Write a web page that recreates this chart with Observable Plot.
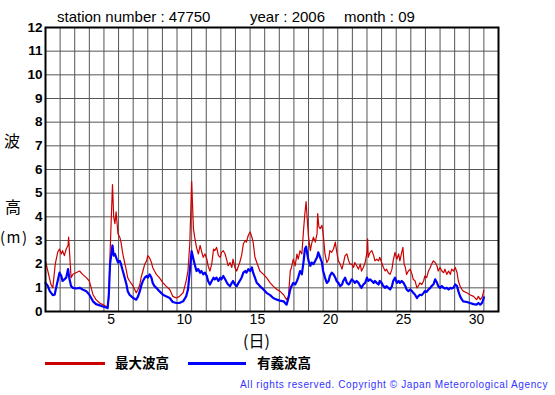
<!DOCTYPE html>
<html><head><meta charset="utf-8">
<script src="https://cdn.jsdelivr.net/npm/d3@7"></script>
<script src="https://cdn.jsdelivr.net/npm/@observablehq/plot@0.6"></script>
<style>
body{margin:0;background:#fff;width:555px;height:395px;position:relative;overflow:hidden;font-family:"Liberation Sans",Arial,sans-serif;color:#000;}
#chart{position:absolute;left:0;top:0;}
.t{position:absolute;white-space:nowrap;line-height:1;}
.jp{font-family:"Noto Sans CJK JP",sans-serif;}
</style></head><body>
<div id="chart"></div>
<div class="t" style="left:57px;top:9px;font-size:15px;">station number : 47750</div>
<div class="t" style="left:250px;top:9px;font-size:15px;">year : 2006</div>
<div class="t" style="left:344px;top:9px;font-size:15px;">month : 09</div>
<div class="t jp" style="left:4px;top:132px;font-size:16px;">波</div>
<div class="t jp" style="left:5px;top:198px;font-size:16px;">高</div>
<div class="t jp" style="left:0px;top:229px;font-size:15px;letter-spacing:1.5px;">(m)</div>
<div class="t jp" style="left:243px;top:332px;font-size:16px;">(日)</div>
<div style="position:absolute;left:45px;top:362px;width:60px;height:3px;background:#cc0000;"></div>
<div class="t jp" style="left:115px;top:356px;font-size:13.5px;font-weight:bold;">最大波高</div>
<div style="position:absolute;left:188px;top:362px;width:58px;height:3px;background:#0000ff;"></div>
<div class="t jp" style="left:257px;top:356px;font-size:13.5px;font-weight:bold;">有義波高</div>
<div class="t" style="right:7px;top:380px;font-size:10px;letter-spacing:0.6px;color:#3333ff;">All rights reserved. Copyright © Japan Meteorological Agency</div>
<script>
// hours elapsed since 2006-09-01 00:00
const maxHour = [0,9,12,16,20,23,26,28,31,34,37,38,41,42,45,50,56,61,67,72,78,83,89,94,100,102,104,106,110,112,114,116,119,122,124,127,130,133,135,138,144,149,152,155,157,160,163,166,168,171,174,176,179,182,187,193,198,204,209,215,220,226,231,234,237,240,
243,245,248,251,254,256,259,262,265,267,270,273,276,278,281,284,287,289,292,295,298,300,303,306,308,311,314,317,319,322,325,328,330,333,336,339,341,344,347,350,352,358,363,369,374,380,385,391,396,399,402,404,407,410,413,415,418,421,424,426,428,430,432,435,437,440,443,446,447,449,451,454,456,459,462,465,467,470,473,476,478,481,484,487,489,492,495,498,500,
503,506,508,511,514,517,519,522,525,528,529,530,533,536,539,541,544,547,549,552,555,558,560,563,566,569,571,574,577,580,582,585,587,589,591,593,596,599,602,604,607,610,612,615,618,621,623,626,629,632,634,637,640,643,645,648,651,654,656,659,662,665,667,670,673,676,678,681,684,686,692,697,703,708,711,714,717,719,720];
const maxHeight = [2.14,1.14,1.0,2.0,2.5,2.64,2.43,2.57,2.36,2.64,2.79,3.14,1.86,1.43,1.57,1.64,1.71,1.57,1.43,1.29,0.71,0.5,0.36,0.29,0.21,0.17,0.57,2.43,5.36,4.0,3.71,4.21,3.29,3.14,2.93,2.43,2.07,1.71,1.43,1.29,1.07,0.79,0.93,1.14,1.43,1.71,2.0,2.14,2.36,2.26,2.07,1.86,1.71,1.57,1.43,1.21,1.07,0.93,0.64,0.57,0.64,0.79,1.29,1.71,2.86,5.5,
3.5,3.14,2.71,2.43,2.79,2.57,2.29,2.43,2.21,1.93,1.71,2.0,2.64,2.57,2.71,2.36,2.29,2.5,2.57,2.43,2.14,1.93,2.07,1.86,2.21,1.86,1.71,1.93,2.07,2.36,2.86,3.0,2.93,3.21,3.36,3.14,2.93,2.29,2.07,1.86,1.71,1.57,1.43,1.21,1.07,0.93,0.86,0.71,0.5,0.64,1.71,1.86,2.21,1.93,2.43,2.21,2.57,2.43,3.5,4.14,4.64,3.86,3.14,2.57,2.86,3.14,2.93,3.29,4.14,3.57,3.5,3.64,3.29,2.43,2.07,2.21,2.57,2.5,2.64,2.93,2.57,2.14,2.0,1.79,2.0,2.36,2.43,2.14,2.0,
2.0,1.86,2.07,1.93,1.79,2.0,1.71,1.86,2.07,2.5,3.07,2.29,2.5,2.57,2.36,2.14,2.21,2.14,2.29,2.07,1.86,1.71,1.79,1.64,1.57,1.79,2.14,2.5,2.21,2.43,2.14,2.5,2.71,2.0,1.86,1.57,1.71,1.79,1.57,1.36,1.29,1.0,1.07,1.21,1.14,1.29,1.5,1.43,1.71,1.86,2.0,2.14,2.07,1.93,1.71,1.86,1.71,1.64,1.79,1.57,1.71,1.57,1.79,1.71,1.86,1.64,1.29,1.07,0.93,0.86,0.79,0.71,0.64,0.5,0.64,0.5,0.6,0.79,0.9];
const sigHour = [0,4,7,12,15,18,20,23,26,28,31,34,37,39,42,45,50,56,61,67,72,78,83,89,94,100,102,104,106,110,112,114,116,119,122,124,127,130,133,135,138,141,144,149,152,155,157,160,163,166,168,171,174,176,179,182,187,193,198,204,209,215,220,226,231,234,237,240,
243,245,248,251,254,256,259,262,265,267,270,273,276,278,281,284,287,289,292,295,298,300,303,306,308,311,314,317,319,322,325,328,330,333,336,339,341,344,347,350,352,358,363,369,374,380,385,391,396,399,402,404,407,410,413,415,418,421,424,426,428,430,432,435,437,440,443,446,448,451,454,456,459,462,465,467,470,473,476,478,481,484,487,489,492,495,498,500,
503,506,508,511,514,517,519,522,525,528,530,533,536,539,541,544,547,549,552,555,558,560,563,566,569,571,574,577,580,582,585,588,591,593,596,599,602,604,607,610,612,615,618,621,623,626,629,632,634,637,640,643,645,648,651,654,656,659,662,665,667,670,673,676,678,681,684,686,692,697,703,708,711,714,717,719,720];
const sigHeight = [1.21,1.07,0.86,0.69,0.71,1.07,1.29,1.64,1.5,1.29,1.36,1.43,1.79,1.43,1.07,1.0,0.97,1.0,0.93,0.86,0.71,0.43,0.31,0.26,0.21,0.17,0.14,0.71,2.0,2.79,2.36,2.43,2.29,2.07,2.14,2.0,1.71,1.43,1.14,0.86,0.71,0.64,0.57,0.5,0.64,0.86,1.07,1.29,1.43,1.5,1.43,1.57,1.43,1.21,1.07,1.0,0.86,0.71,0.64,0.57,0.4,0.36,0.36,0.43,0.64,0.93,1.71,2.55,
2.21,2.0,1.71,1.79,1.64,1.71,1.57,1.64,1.5,1.29,1.14,1.29,1.43,1.36,1.43,1.29,1.43,1.36,1.5,1.36,1.21,1.14,1.07,1.21,1.29,1.14,1.07,1.21,1.29,1.43,1.64,1.71,1.64,1.79,1.71,1.86,1.64,1.43,1.21,1.14,1.07,0.93,0.79,0.69,0.57,0.5,0.46,0.43,0.29,0.57,0.93,1.07,1.21,1.14,1.29,1.43,1.71,1.57,2.14,2.64,2.74,2.43,2.14,1.93,2.07,2.0,2.14,2.29,2.5,2.29,2.07,1.71,1.43,1.21,1.29,1.5,1.64,1.57,1.43,1.29,1.21,1.07,1.14,1.29,1.43,1.21,1.14,1.21,
1.36,1.29,1.21,1.29,1.21,1.07,1.0,1.14,1.21,1.43,1.29,1.36,1.29,1.21,1.29,1.21,1.14,1.29,1.21,1.07,1.0,1.07,1.0,0.93,1.07,1.29,1.43,1.21,1.29,1.21,1.29,1.21,1.07,0.93,0.86,0.93,0.86,0.79,0.71,0.57,0.64,0.71,0.69,0.79,0.86,0.83,0.93,1.0,1.07,1.14,1.36,1.21,1.07,1.0,1.07,1.0,0.97,1.0,0.93,1.0,0.97,1.0,1.14,1.07,0.86,0.64,0.5,0.43,0.4,0.36,0.31,0.29,0.36,0.29,0.36,0.5,0.6];
const dayLabels = [5,10,15,20,25,30];
const yTicks = [0,1,2,3,4,5,6,7,8,9,10,11,12];
const dayCount = 31;

const maxData = maxHour.map((h,i) => ({h, v: maxHeight[i]}));
const sigData = sigHour.map((h,i) => ({h, v: sigHeight[i]}));

const chart = Plot.plot({
  width: 555, height: 395,
  marginLeft: 45, marginRight: 57, marginTop: 27, marginBottom: 84,
  style: {fontFamily: "Liberation Sans, Arial, sans-serif", background: "white", color: "black"},
  x: {domain: [0, dayCount * 24], label: null},
  y: {domain: [0, 12], label: null},
  marks: [
    Plot.gridX(d3.range(0, dayCount * 24 + 1, 24), {stroke: "#555", strokeOpacity: 1, strokeWidth: 1}),
    Plot.gridY(yTicks, {stroke: "#555", strokeOpacity: 1, strokeWidth: 1}),
    Plot.line(maxData, {x: "h", y: "v", stroke: "#cc0000", strokeWidth: 1.2}),
    Plot.line(sigData, {x: "h", y: "v", stroke: "#0000ff", strokeWidth: 2.2}),
    Plot.frame({stroke: "black", strokeWidth: 2}),
    Plot.axisY(yTicks, {tickSize: 0, tickPadding: 3, fontSize: 13.5, fontWeight: "bold", label: null}),
    Plot.axisX(dayLabels.map(d => (d - 0.5) * 24), {tickSize: 0, tickPadding: 3, fontSize: 14, tickFormat: h => String(h / 24 + 0.5), label: null})
  ]
});
document.getElementById("chart").appendChild(chart);
</script>
</body></html>
